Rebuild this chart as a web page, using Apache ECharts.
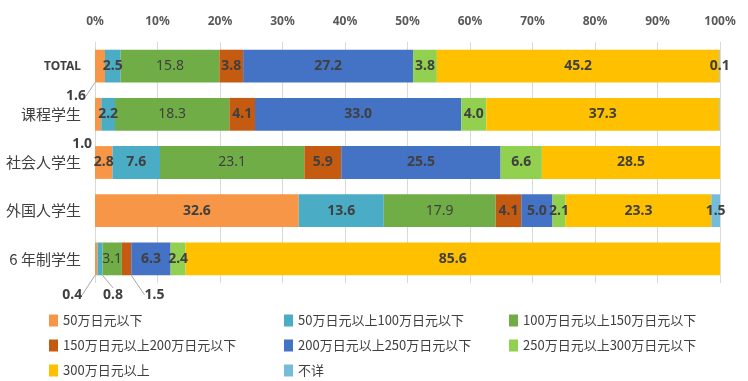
<!DOCTYPE html>
<html><head><meta charset="utf-8">
<script src="https://cdn.jsdelivr.net/npm/echarts@6/dist/echarts.min.js"></script>
<style>html,body{margin:0;padding:0;background:#fff}#c{width:748px;height:381px}</style>
</head><body><div id="c"></div>
<script>
const categories = ['TOTAL', '课程学生', '社会人学生', '外国人学生', '6 年制学生'];
const tickLabels = ['0%','10%','20%','30%','40%','50%','60%','70%','80%','90%','100%'];
const seriesNames = ['50万日元以下','50万日元以上100万日元以下','100万日元以上150万日元以下','150万日元以上200万日元以下','200万日元以上250万日元以下','250万日元以上300万日元以下','300万日元以上','不详'];
const under50 = [1.6, 1.0, 2.8, 32.6, 0.4];
const from50to100 = [2.5, 2.2, 7.6, 13.6, 0.8];
const from100to150 = [15.8, 18.3, 23.1, 17.9, 3.1];
const from150to200 = [3.8, 4.1, 5.9, 4.1, 1.5];
const from200to250 = [27.2, 33.0, 25.5, 5.0, 6.3];
const from250to300 = [3.8, 4.0, 6.6, 2.1, 2.4];
const over300 = [45.2, 37.3, 28.5, 23.3, 85.6];
const unknown = [0.1, 0.1, 0.0, 1.5, 0.0];
const allData = [under50, from50to100, from100to150, from150to200, from200to250, from250to300, over300, unknown];

const colors = ['#F79646','#4BACC6','#70AD47','#C55A11','#4472C4','#92D050','#FFC000','#74BCD8'];
// label style: moved labels (series, category) -> offset
const moved = {'0_0':[-24,30,true],'0_1':[-16,30,false],'0_4':[-24,36,true],'1_4':[13,36,true],'3_4':[28,36,true]};
const hidden = {'7_1':1,'7_2':1,'7_4':1};

const series = allData.map((arr, si) => ({
  name: seriesNames[si], type: 'bar', stack: 'a', barWidth: '68%',
  itemStyle: {color: colors[si]},
  label: {show: true, position: 'inside', color: '#404040', fontSize: 14,
    fontFamily: 'Noto Sans', fontWeight: si === 2 ? 'normal' : 'bold',
    formatter: p => p.value.toFixed(1)},
  labelLine: {show: true, lineStyle: {color: '#A6A6A6', width: 1}},
  data: arr.map((v, ci) => {
    const k = si + '_' + ci;
    const item = {value: v};
    if (hidden[k]) item.label = {show: false};
    if (moved[k] && !moved[k][2]) item.labelLine = {show: false};
    return item;
  }),
  labelLayout: p => {
    const m = moved[p.seriesIndex + '_' + p.dataIndex];
    if (m) return {dx: m[0], dy: m[1]};
    return {};
  }
}));

const mkLegend = (names, left) => ({
  data: names, left: left, top: 314, orient: 'vertical', itemGap: 12, padding: 0,
  height: 70, itemWidth: 9, itemHeight: 12, icon: 'rect',
  textStyle: {fontSize: 13, color: '#404040', fontFamily: 'Noto Sans CJK JP'}
});

const chart = echarts.init(document.getElementById('c'));
chart.setOption({
  animation: false,
  grid: {left: 95, right: 28, top: 42, bottom: 98},
  legend: [
    mkLegend([seriesNames[0], seriesNames[3], seriesNames[6]], 49),
    mkLegend([seriesNames[1], seriesNames[4], seriesNames[7]], 284),
    mkLegend([seriesNames[2], seriesNames[5]], 509)
  ],
  xAxis: {type: 'value', position: 'top', min: 0, max: 100, interval: 10,
    axisLine: {show: false}, axisTick: {show: false},
    splitLine: {lineStyle: {color: '#D9D9D9'}},
    axisLabel: {color: '#595959', fontSize: 12, fontWeight: 'bold', margin: 14,
      fontFamily: 'Noto Sans', formatter: v => tickLabels[Math.round(v / 10)]}},
  yAxis: {type: 'category', data: categories, inverse: true,
    axisLine: {show: false}, axisTick: {show: false},
    axisLabel: {margin: 14, color: '#404040', fontSize: 15, fontFamily: 'Noto Sans CJK JP',
      formatter: v => v === 'TOTAL' ? '{t|TOTAL}' : v,
      rich: {t: {fontSize: 12, fontWeight: 'bold', color: '#404040', fontFamily: 'Noto Sans'}}}},
  series: series
});
</script></body></html>
